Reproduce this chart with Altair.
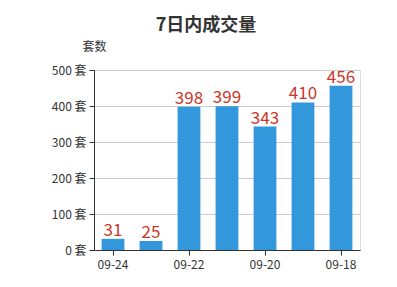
import altair as alt
import pandas as pd

# Daily transaction counts for the last 7 days
dates = ["09-24", "09-23", "09-22", "09-21", "09-20", "09-19", "09-18"]
counts = [31, 25, 398, 399, 343, 410, 456]
shown_dates = ["09-24", "09-22", "09-20", "09-18"]
y_ticks = [0, 100, 200, 300, 400, 500]

df = pd.DataFrame({"date": dates, "count": counts})

FONT = "Noto Sans CJK SC"

x_enc = alt.X(
    "date:N",
    sort=dates,
    scale=alt.Scale(paddingInner=0.4, paddingOuter=0.2),
    axis=alt.Axis(
        values=shown_dates,
        title=None,
        labelAngle=0,
        labelFont=FONT,
        labelFontSize=12,
        labelColor="#333333",
        labelPadding=4,
        domainColor="#333333",
        tickColor="#333333",
        tickSize=5,
        grid=False,
    ),
)

y_enc = alt.Y(
    "count:Q",
    scale=alt.Scale(domain=[0, 500], nice=False),
    axis=alt.Axis(
        values=y_ticks,
        labelExpr="datum.value + ' 套'",
        labelOverlap=False,
        labelFont=FONT,
        labelFontSize=12,
        labelColor="#333333",
        labelPadding=3,
        domainColor="#333333",
        tickColor="#333333",
        tickSize=5,
        gridColor="#cccccc",
        title="套数",
        titleFont=FONT,
        titleFontSize=12,
        titleFontWeight="normal",
        titleColor="#333333",
        titleAngle=0,
        titleAlign="center",
        titleBaseline="middle",
        titleX=0,
        titleY=-24,
    ),
)

base = alt.Chart(df).encode(x=x_enc, y=y_enc)

bars = base.mark_bar(color="#3398DB")

labels = base.mark_text(
    baseline="bottom",
    dy=1,
    font=FONT,
    fontSize=17,
    color="#c9362a",
).encode(text="count:Q")

chart = (
    alt.layer(bars, labels)
    .properties(
        width=266,
        height=180,
        padding={"left": 94, "top": 70, "right": 37, "bottom": 37},
        autosize=alt.AutoSizeParams(type="none"),
        title=alt.TitleParams(
            "7日内成交量",
            font=FONT,
            fontSize=18,
            fontWeight="bold",
            color="#333333",
            anchor="middle",
            dx=-21,
            offset=5,
        ),
    )
    .configure_view(stroke="transparent", strokeWidth=0)
    .configure(background="white")
)

chart.save("out.html", embed_options={"renderer": "svg", "actions": False})
